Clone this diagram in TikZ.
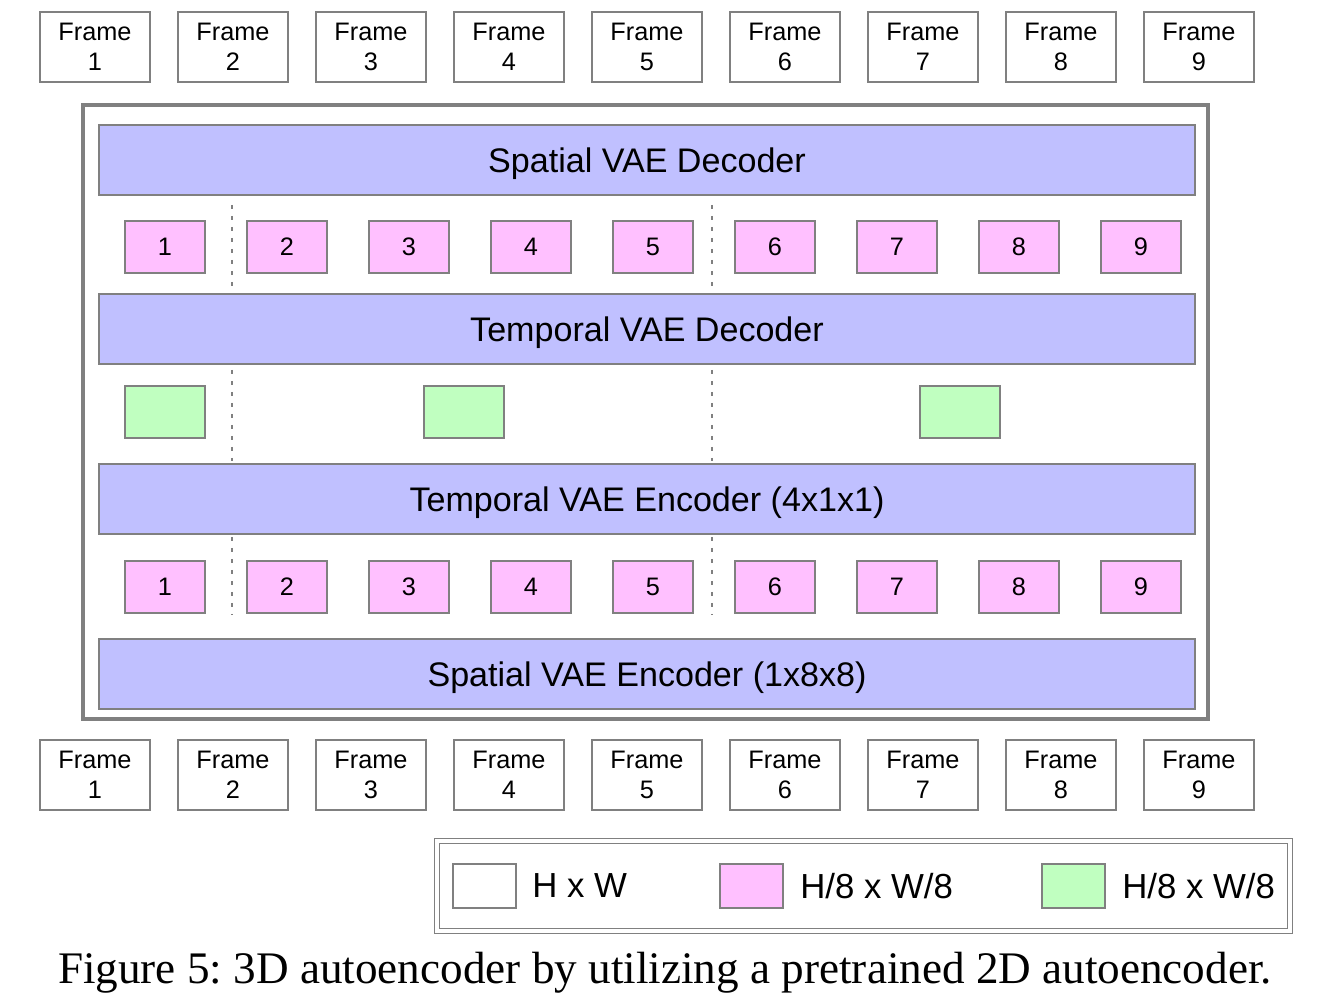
\documentclass[tikz,border=0pt]{standalone}
\usepackage{fontspec}
\setmainfont{Liberation Serif}
\setsansfont{Liberation Sans}
\usepackage{xcolor}
\usetikzlibrary{positioning}

\definecolor{edgegray}{RGB}{128,128,128}
\definecolor{vaeblue}{RGB}{192,192,255}
\definecolor{latpink}{RGB}{255,192,255}
\definecolor{latgreen}{RGB}{192,255,192}

\begin{document}
\begin{tikzpicture}[
  x=0.02cm, y=-0.02cm,
  every node/.style={font=\sffamily},
  framebox/.style={
    rectangle, draw=edgegray, line width=1.1pt, fill=white,
    minimum width=2.2cm, minimum height=1.4cm, inner sep=0pt,
    align=center, font=\sffamily\fontsize{14.4}{17}\selectfont,
  },
  vaebar/.style={
    rectangle, draw=edgegray, line width=1.1pt, fill=vaeblue,
    minimum width=21.92cm, minimum height=1.4cm, inner sep=0pt,
    text height=0.62cm, text depth=0.1cm,
    font=\sffamily\fontsize{19.4}{22}\selectfont,
  },
  latent/.style={
    rectangle, draw=edgegray, line width=1.1pt, fill=latpink,
    minimum width=1.6cm, minimum height=1.04cm, inner sep=0pt,
    font=\sffamily\fontsize{14.4}{17}\selectfont,
  },
  tlatent/.style={latent, fill=latgreen},
  legkey/.style={
    rectangle, draw=edgegray, line width=1.1pt,
    minimum width=1.26cm, minimum height=0.88cm, inner sep=0pt,
  },
  legtext/.style={inner sep=0pt, font=\sffamily\fontsize{19.8}{22}\selectfont},
  cut/.style={draw=edgegray, line width=1.1pt, dash pattern=on 0.08cm off 0.14cm},
]
  \useasboundingbox (0,0) rectangle (1326,999);

  % outer autoencoder box
  \node[rectangle, draw=edgegray, line width=2.3pt, minimum width=22.5cm,
        minimum height=12.28cm] (vae) at (645.5,412) {};

  % input / output frames
  \foreach \i in {1,...,9} {
    \node[framebox] (ftop\i) at ({95+138*(\i-1)},47) {Frame\\\i};
    \node[framebox] (fbot\i) at ({95+138*(\i-1)},775) {Frame\\\i};
  }

  % the four VAE stages
  \node[vaebar] (sdec) at (647,160) {Spatial VAE Decoder};
  \node[vaebar] (tdec) at (647,329) {Temporal VAE Decoder};
  \node[vaebar] (tenc) at (647,499) {Temporal VAE Encoder (4x1x1)};
  \node[vaebar] (senc) at (647,674) {Spatial VAE Encoder (1x8x8)};

  % per-frame latents
  \foreach \i in {1,...,9} {
    \node[latent] (dec\i) at ({165+122*(\i-1)},247) {\i};
    \node[latent] (enc\i) at ({165+122*(\i-1)},587) {\i};
  }

  % temporally compressed latents
  \node[tlatent] (tlat1) at (165,412) {};
  \node[tlatent] (tlat2) at (464,412) {};
  \node[tlatent] (tlat3) at (960,412) {};

  % chunk separators
  \coordinate (cutA1) at (232,205);  \coordinate (cutA2) at (232,289);
  \coordinate (cutA3) at (232,370);  \coordinate (cutA4) at (232,461);
  \coordinate (cutA5) at (232,537);  \coordinate (cutA6) at (232,615);
  \coordinate (cutB1) at (712,205);  \coordinate (cutB2) at (712,289);
  \coordinate (cutB3) at (712,370);  \coordinate (cutB4) at (712,461);
  \coordinate (cutB5) at (712,537);  \coordinate (cutB6) at (712,615);
  \draw[cut] (cutA1) -- (cutA2);
  \draw[cut] (cutA3) -- (cutA4);
  \draw[cut] (cutA5) -- (cutA6);
  \draw[cut] (cutB1) -- (cutB2);
  \draw[cut] (cutB3) -- (cutB4);
  \draw[cut] (cutB5) -- (cutB6);

  % legend
  \node[rectangle, draw=edgegray, line width=0.5pt, double, double distance=2.6pt,
        minimum width=17.06cm, minimum height=1.8cm] (legend) at (863.5,886) {};
  \node[legkey, fill=white] (legA) at (484.5,886) {};
  \node[legkey, fill=latpink] (legB) at (751.5,886) {};
  \node[legkey, fill=latgreen] (legC) at (1073.5,886) {};
  \node[legtext, right=0.3cm of legA] (legAtxt) {H x W};
  \node[legtext, right=0.32cm of legB] (legBtxt) {H/8 x W/8};
  \node[legtext, right=0.32cm of legC] (legCtxt) {H/8 x W/8};

  % caption
  \node[anchor=base, inner sep=0pt, font=\rmfamily\fontsize{25.7}{30}\selectfont\frenchspacing]
    (caption) at (665,984) {Figure 5: 3D autoencoder by utilizing a pretrained 2D autoencoder.};
\end{tikzpicture}
\end{document}
